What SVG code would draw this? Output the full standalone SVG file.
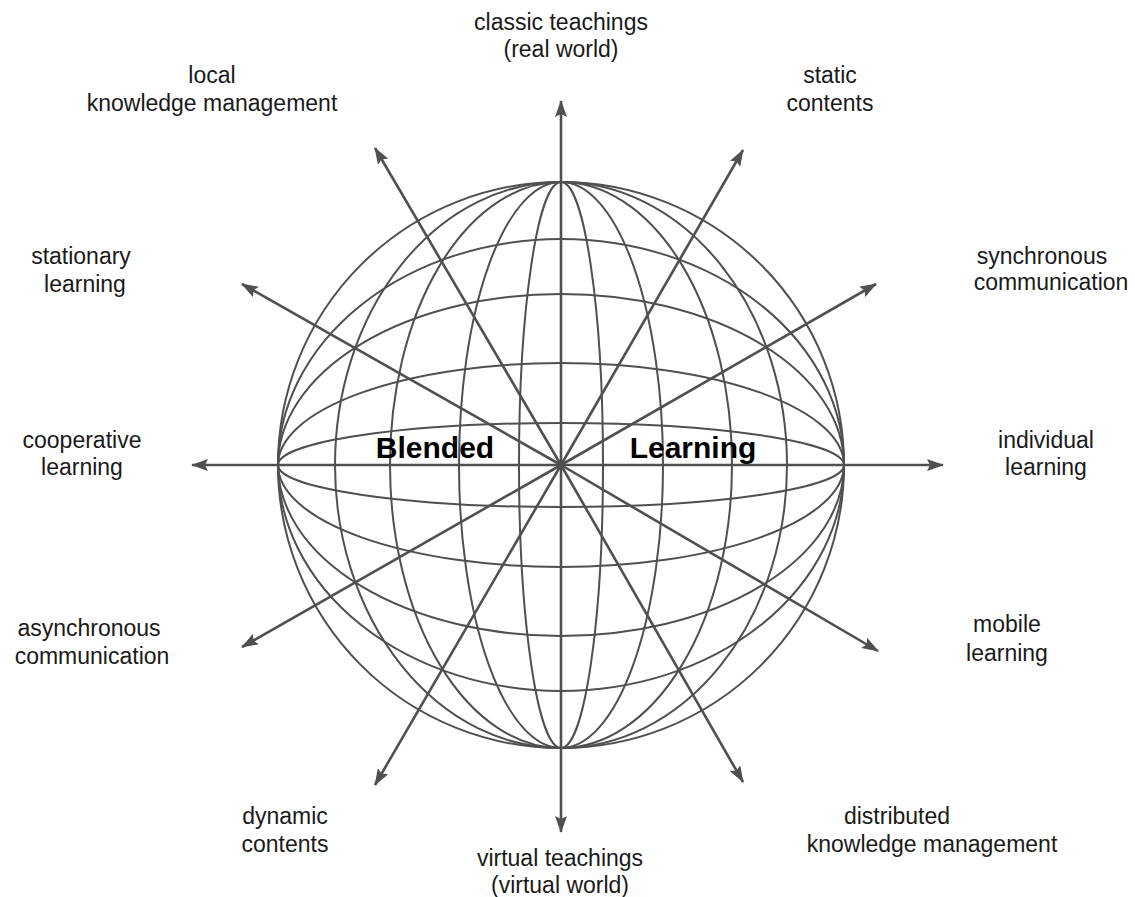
<svg xmlns="http://www.w3.org/2000/svg" width="1135" height="897" viewBox="0 0 1135 897">
<defs>
<marker id="arr" markerUnits="userSpaceOnUse" markerWidth="17" markerHeight="12" refX="16" refY="6" orient="auto">
<path d="M0,0 L17,6 L0,12 L3,6 z" fill="#505050"/>
</marker>
<style>
.g{fill:none;stroke:#505050;stroke-width:2}
.ax{stroke:#505050;stroke-width:2.6;fill:none}
.t{font-family:"Liberation Sans",Arial,sans-serif;font-size:23px;fill:#1a1a1a;text-anchor:middle}
.b{font-family:"Liberation Sans",Arial,sans-serif;font-size:30px;font-weight:bold;fill:#000;text-anchor:middle}
</style>
</defs>
<rect width="1135" height="897" fill="#fff"/>
<g id="globe">
<circle class="g" cx="561" cy="465" r="283"/>
<ellipse class="g" cx="561" cy="465" rx="42" ry="283"/>
<ellipse class="g" cx="561" cy="465" rx="102" ry="283"/>
<ellipse class="g" cx="561" cy="465" rx="171" ry="283"/>
<ellipse class="g" cx="561" cy="465" rx="226" ry="283"/>
<ellipse class="g" cx="561" cy="465" rx="283" ry="42"/>
<ellipse class="g" cx="561" cy="465" rx="283" ry="102"/>
<ellipse class="g" cx="561" cy="465" rx="283" ry="171"/>
<ellipse class="g" cx="561" cy="465" rx="283" ry="226"/>
</g>
<g id="connectors">
<line class="ax" x1="561" y1="465" x2="561" y2="101" marker-end="url(#arr)"/>
<line class="ax" x1="561" y1="465" x2="561" y2="832" marker-end="url(#arr)"/>
<line class="ax" x1="561" y1="465" x2="192" y2="465" marker-end="url(#arr)"/>
<line class="ax" x1="561" y1="465" x2="943" y2="465" marker-end="url(#arr)"/>
<line class="ax" x1="561" y1="465" x2="375" y2="148" marker-end="url(#arr)"/>
<line class="ax" x1="561" y1="465" x2="743" y2="150" marker-end="url(#arr)"/>
<line class="ax" x1="561" y1="465" x2="242" y2="284" marker-end="url(#arr)"/>
<line class="ax" x1="561" y1="465" x2="876" y2="284" marker-end="url(#arr)"/>
<line class="ax" x1="561" y1="465" x2="242" y2="647" marker-end="url(#arr)"/>
<line class="ax" x1="561" y1="465" x2="878" y2="651" marker-end="url(#arr)"/>
<line class="ax" x1="561" y1="465" x2="375" y2="785" marker-end="url(#arr)"/>
<line class="ax" x1="561" y1="465" x2="743" y2="782" marker-end="url(#arr)"/>
</g>
<g id="title">
<text class="b" x="435" y="458">Blended</text>
<text class="b" x="693" y="458">Learning</text>
</g>
<g id="n-classic"><text class="t" x="561" y="30">classic teachings</text><text class="t" x="561" y="57">(real world)</text></g>
<g id="n-local"><text class="t" x="212" y="83">local</text><text class="t" x="212" y="111">knowledge management</text></g>
<g id="n-static"><text class="t" x="830" y="83">static</text><text class="t" x="830" y="111">contents</text></g>
<g id="n-stationary"><text class="t" x="81" y="264">stationary</text><text class="t" x="85" y="292">learning</text></g>
<g id="n-synchronous"><text class="t" x="1042" y="264">synchronous</text><text class="t" x="1051" y="290">communication</text></g>
<g id="n-cooperative"><text class="t" x="82" y="448">cooperative</text><text class="t" x="82" y="475">learning</text></g>
<g id="n-individual"><text class="t" x="1046" y="448">individual</text><text class="t" x="1046" y="475">learning</text></g>
<g id="n-asynchronous"><text class="t" x="89" y="636">asynchronous</text><text class="t" x="92" y="664">communication</text></g>
<g id="n-mobile"><text class="t" x="1007" y="632">mobile</text><text class="t" x="1007" y="661">learning</text></g>
<g id="n-dynamic"><text class="t" x="285" y="824">dynamic</text><text class="t" x="285" y="852">contents</text></g>
<g id="n-virtual"><text class="t" x="560" y="866">virtual teachings</text><text class="t" x="560" y="893">(virtual world)</text></g>
<g id="n-distributed"><text class="t" x="897" y="824">distributed</text><text class="t" x="932" y="852">knowledge management</text></g>
</svg>
